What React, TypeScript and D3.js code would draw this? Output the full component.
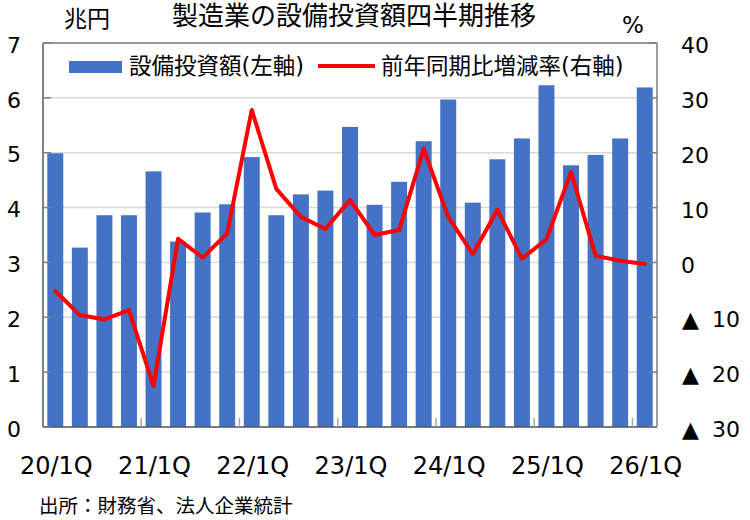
import React from 'react';
import * as d3 from 'd3';

const quarters = [
  '20/1Q', '20/2Q', '20/3Q', '20/4Q',
  '21/1Q', '21/2Q', '21/3Q', '21/4Q',
  '22/1Q', '22/2Q', '22/3Q', '22/4Q',
  '23/1Q', '23/2Q', '23/3Q', '23/4Q',
  '24/1Q', '24/2Q', '24/3Q', '24/4Q',
  '25/1Q', '25/2Q', '25/3Q', '25/4Q',
  '26/1Q',
];

// 設備投資額 (兆円)
const capex = [
  4.99, 3.27, 3.86, 3.86,
  4.66, 3.38, 3.91, 4.06,
  4.92, 3.86, 4.24, 4.31,
  5.47, 4.05, 4.47, 5.21,
  5.97, 4.09, 4.88, 5.26,
  6.23, 4.77, 4.96, 5.26,
  6.19,
];

// 前年同期比増減率 (%)
const yoy = [
  -5.2, -9.6, -10.4, -8.7,
  -22.5, 4.3, 0.9, 5.3,
  27.8, 13.4, 8.3, 6.1,
  11.4, 5.0, 5.9, 20.7,
  8.3, 1.5, 9.6, 0.7,
  4.2, 16.5, 1.2, 0.3,
  -0.3,
];

const leftTicks = [0, 1, 2, 3, 4, 5, 6, 7];
const rightTicks = [-30, -20, -10, 0, 10, 20, 30, 40];
const labelEvery = 4;

const FONT = '"DejaVu Sans", "Noto Sans CJK JP", sans-serif';

const App = () => {
  const width = 750;
  const height = 520;
  const margin = { top: 43, right: 93, bottom: 93, left: 43 };
  const x0 = margin.left;
  const x1 = width - margin.right;
  const y0 = height - margin.bottom;
  const y1 = margin.top;

  const x = d3.scaleBand<string>()
    .domain(quarters)
    .range([x0, x1])
    .paddingInner(0.35)
    .paddingOuter(0.175);

  const yLeft = d3.scaleLinear().domain([0, 7]).range([y0, y1]);
  const yRight = d3.scaleLinear().domain([-30, 40]).range([y0, y1]);

  const center = (q: string) => (x(q) ?? 0) + x.bandwidth() / 2;

  const line = d3.line<number>()
    .x((_, i) => center(quarters[i]))
    .y(d => yRight(d));

  const step = x.step();
  const boundaryTicks = d3.range(labelEvery, quarters.length, labelEvery)
    .map(i => x0 + i * step);

  const rightLabelX = 681;

  return (
    <svg
      width={width}
      height={height}
      style={{ position: 'absolute', left: 0, top: 0, background: '#fff' }}
      fontFamily={FONT}
    >
      {/* gridlines */}
      {leftTicks.map(t => (
        <line key={'g' + t} x1={x0} x2={x1} y1={yLeft(t)} y2={yLeft(t)}
          stroke="#d9d9d9" strokeWidth={1.5} />
      ))}

      {/* bars */}
      {capex.map((v, i) => (
        <rect key={'b' + i}
          x={x(quarters[i])}
          y={yLeft(v)}
          width={x.bandwidth()}
          height={y0 - yLeft(v)}
          fill="#4472c4"
        />
      ))}

      {/* axes frame */}
      <line x1={x0} x2={x1} y1={y1} y2={y1} stroke="#7f7f7f" strokeWidth={1.5} />
      <line x1={x0} x2={x1} y1={y0} y2={y0} stroke="#595959" strokeWidth={1.5} />
      <line x1={x0} x2={x0} y1={y1} y2={y0} stroke="#595959" strokeWidth={1.5} />
      <line x1={x1} x2={x1} y1={y1} y2={y0} stroke="#7f7f7f" strokeWidth={1.5} />

      {leftTicks.map(t => (
        <line key={'lt' + t} x1={x0} x2={x0 + 8} y1={yLeft(t)} y2={yLeft(t)}
          stroke="#7f7f7f" strokeWidth={1.5} />
      ))}
      {rightTicks.map(t => (
        <line key={'rt' + t} x1={x1 - 8} x2={x1} y1={yRight(t)} y2={yRight(t)}
          stroke="#7f7f7f" strokeWidth={1.5} />
      ))}
      {boundaryTicks.map((bx, i) => (
        <line key={'xt' + i} x1={bx} x2={bx} y1={y0} y2={y0 - 9}
          stroke="#a6a6a6" strokeWidth={1.5} />
      ))}

      {/* yoy line */}
      <path d={line(yoy) ?? ''} fill="none" stroke="#ff0000" strokeWidth={4}
        strokeLinejoin="round" strokeLinecap="round" />

      {/* left axis labels */}
      {leftTicks.map(t => (
        <text key={'ll' + t} x={21} y={yLeft(t) + 2} dy="0.35em"
          textAnchor="end" fontSize={22} fill="#000">{t}</text>
      ))}

      {/* right axis labels, negatives written with a triangle */}
      {rightTicks.map(t => (
        <text key={'rl' + t} x={rightLabelX} y={yRight(t) + 2.5} dy="0.35em"
          textAnchor="start" fontSize={22} fill="#000">
          {t < 0 ? (
            <>
              <tspan x={rightLabelX + 1}>▲</tspan>
              <tspan x={rightLabelX + 31}>{Math.abs(t)}</tspan>
            </>
          ) : `${t}`}
        </text>
      ))}

      {/* x axis labels */}
      {quarters.map((q, i) => i % labelEvery === 0 ? (
        <text key={'xl' + q} x={center(q) + 1} y={474}
          textAnchor="middle" fontSize={24} fill="#000">{q}</text>
      ) : null)}

      {/* legend */}
      <rect x={69} y={61} width={53} height={12} fill="#4472c4" />
      <text x={129} y={74} fontSize={22.5} fill="#000">設備投資額(左軸)</text>
      <line x1={318} x2={375} y1={66} y2={66} stroke="#ff0000" strokeWidth={4} />
      <text x={381} y={74} fontSize={22.5} fill="#000">前年同期比増減率(右軸)</text>

      {/* titles and units */}
      <text x={172} y={25} fontSize={26} fill="#000">製造業の設備投資額四半期推移</text>
      <text x={64} y={26.5} fontSize={23} fill="#000">兆円</text>
      <text x={622} y={33} fontSize={23} fill="#000">%</text>
      <text x={39} y={513} fontSize={19.5} fill="#000">出所：財務省、法人企業統計</text>
    </svg>
  );
};

export default App;
